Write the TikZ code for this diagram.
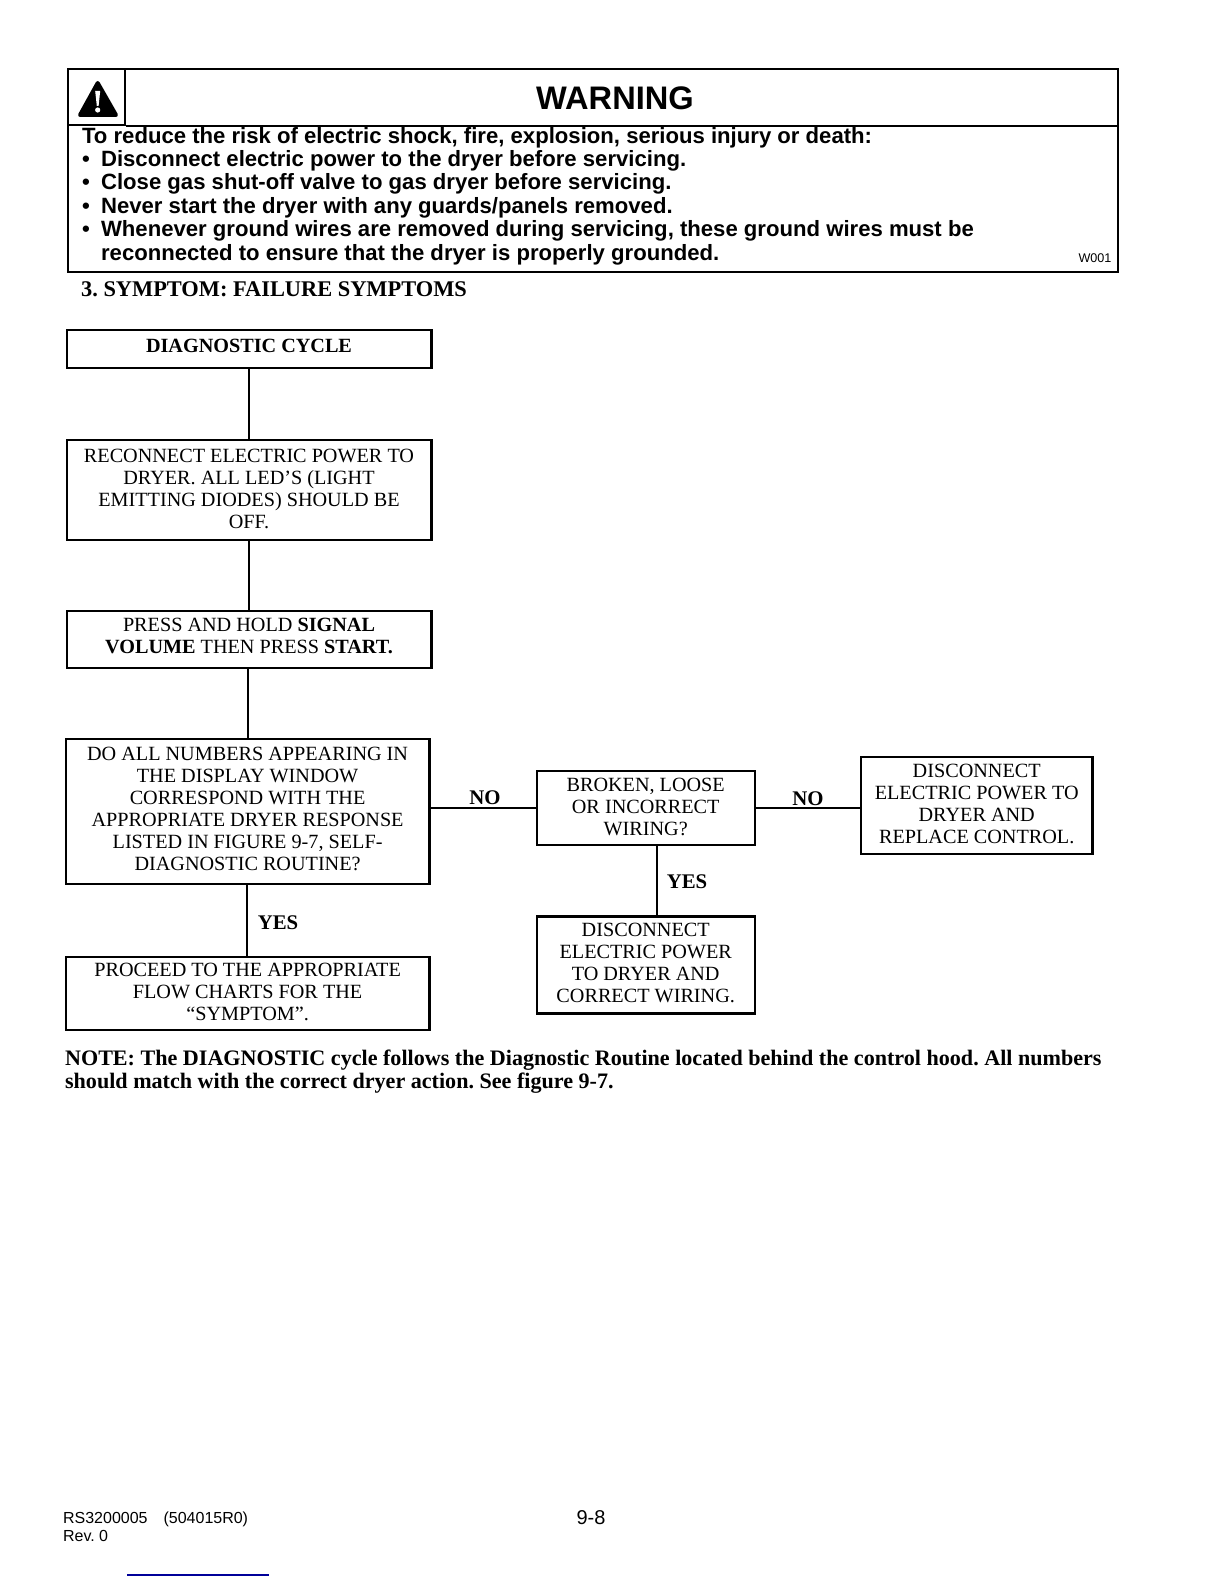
\documentclass[tikz,border=0pt]{standalone}
\usepackage{fontspec}
\setmainfont{Liberation Serif}
\setsansfont{Liberation Sans}
\frenchspacing
\begin{document}
\begin{tikzpicture}[x=0.5pt, y=-0.5pt, line width=1.1pt, node distance={30mm},
	main/.style = {draw, align=center, inner sep=0pt, font=\fontsize{10.1}{11}\selectfont},
	side/.style = {font=\fontsize{10.4}{11}\selectfont\bfseries, inner sep=0pt},
	warn/.style = {font=\fontsize{11.06}{11.7}\selectfont\sffamily\bfseries, align=left, inner sep=0pt, anchor=west},
	foot/.style = {font=\fontsize{8}{8.8}\selectfont\sffamily, align=left, inner sep=0pt, anchor=west}]
	\useasboundingbox (0,0) rectangle (1224,1584);
	% warning panel
	\node[draw, minimum width=525pt, minimum height=101.6pt, anchor=north west] (0) at (66.7,68) {};
	\node[draw, minimum width=28.7pt, minimum height=27.8pt, anchor=north west] (icon) at (0.north west) {};
	\coordinate (rule) at (icon.south east);
	\draw (rule) -- (rule -| 0.east);
	\fill[line join=round, draw, line width=2pt] (97.7,83) -- (116,115) -- (80,115) -- cycle;
	\fill[white] (95.2,91) -- (100.2,91) -- (98.6,106) -- (96.8,106) -- cycle;
	\fill[white] (97.7,110) circle (2.6);
	\node[inner sep=0pt, font=\fontsize{16.3}{16.3}\selectfont\sffamily\bfseries] (title) at (615,98) {WARNING};
	\node[warn] (body) at (81,196) {To reduce the risk of electric shock, fire, explosion, serious injury or death:\\
		\makebox[9.5pt][l]{\textbullet}Disconnect electric power to the dryer before servicing.\\
		\makebox[9.5pt][l]{\textbullet}Close gas shut-off valve to gas dryer before servicing.\\
		\makebox[9.5pt][l]{\textbullet}Never start the dryer with any guards/panels removed.\\
		\makebox[9.5pt][l]{\textbullet}Whenever ground wires are removed during servicing, these ground wires must be\\
		\makebox[9.5pt]{}reconnected to ensure that the dryer is properly grounded.};
	\node[inner sep=0pt, font=\fontsize{6.3}{6.3}\selectfont\sffamily] (code) at (1095,258) {W001};
	\node[inner sep=0pt, anchor=west, font=\fontsize{11.2}{12}\selectfont\bfseries] (head) at (80,289) {3. SYMPTOM: FAILURE SYMPTOMS};
	% flow boxes
	\node[main, text depth=3pt, minimum width=182.4pt, minimum height=18.7pt] (1) at (249,349) {\textbf{DIAGNOSTIC CYCLE}};
	\node[main, text depth=1pt, minimum width=182.4pt, minimum height=50pt, node distance=70.3pt] (2) [below of=1] {RECONNECT ELECTRIC POWER TO\\DRYER. ALL LED'S (LIGHT\\EMITTING DIODES) SHOULD BE\\OFF.};
	\node[main, text depth=3.5pt, minimum width=182.4pt, minimum height=28.3pt, node distance=75pt] (3) [below of=2] {PRESS AND HOLD \textbf{SIGNAL}\\\textbf{VOLUME} THEN PRESS \textbf{START.}};
	\node[main, text depth=3pt, minimum width=181.9pt, minimum height=72.7pt] (4) at (247.6,811.4) {DO ALL NUMBERS APPEARING IN\\THE DISPLAY WINDOW\\CORRESPOND WITH THE\\APPROPRIATE DRYER RESPONSE\\LISTED IN FIGURE 9-7, SELF-\\DIAGNOSTIC ROUTINE?};
	\node[main, text depth=2pt, minimum width=181.9pt, minimum height=36.4pt, node distance=91pt] (5) [below of=4] {PROCEED TO THE APPROPRIATE\\FLOW CHARTS FOR THE\\``SYMPTOM''.};
	\node[main, text depth=1pt, minimum width=109pt, minimum height=36.9pt] (6) at (645.7,807.9) {BROKEN, LOOSE\\OR INCORRECT\\WIRING?};
	\node[main, text depth=2pt, minimum width=109pt, minimum height=48.5pt] (7) at (645.7,965) {DISCONNECT\\ELECTRIC POWER\\TO DRYER AND\\CORRECT WIRING.};
	\node[main, text depth=1.5pt, minimum width=115.7pt, minimum height=48.5pt] (8) at (976.7,805.4) {DISCONNECT\\ELECTRIC POWER TO\\DRYER AND\\REPLACE CONTROL.};
	\draw (1) -- (2);
	\draw (2) -- (3);
	\draw ([xshift=-0.5pt]3.south) -- ([xshift=0.2pt]4.north);
	\draw ([xshift=-0.5pt]4.south) -- ([xshift=-0.5pt]5.north);
	\draw (4.east |- 6) -- (6);
	\draw ([xshift=5.5pt]6.south) -- ([xshift=5.5pt]7.north);
	\draw (6) -- (6 -| 8.west);
	\node[side] (no1) at (485,798) {NO};
	\node[side] (no2) at (808,799) {NO};
	\node[side] (yes1) at (278,923) {YES};
	\node[side] (yes2) at (687,882) {YES};
	\node[inner sep=0pt, anchor=west, align=left, font=\fontsize{11.05}{11.7}\selectfont\bfseries] (note) at (64,1071.5) {NOTE: The DIAGNOSTIC cycle follows the Diagnostic Routine located behind the control hood. All numbers\\should match with the correct dryer action. See figure 9-7.};
	% footer
	\node[foot] (rs) at (62,1527) {RS3200005\hspace{8pt}(504015R0)\\Rev. 0};
	\node[inner sep=0pt, font=\fontsize{10}{10}\selectfont\sffamily] (page) at (591,1518) {9-8};
	\coordinate (a) at (127,1575);
	\coordinate (b) at (269,1575);
	\draw[blue!60!black, line width=1pt] (a) -- (b);
\end{tikzpicture}
\end{document}
